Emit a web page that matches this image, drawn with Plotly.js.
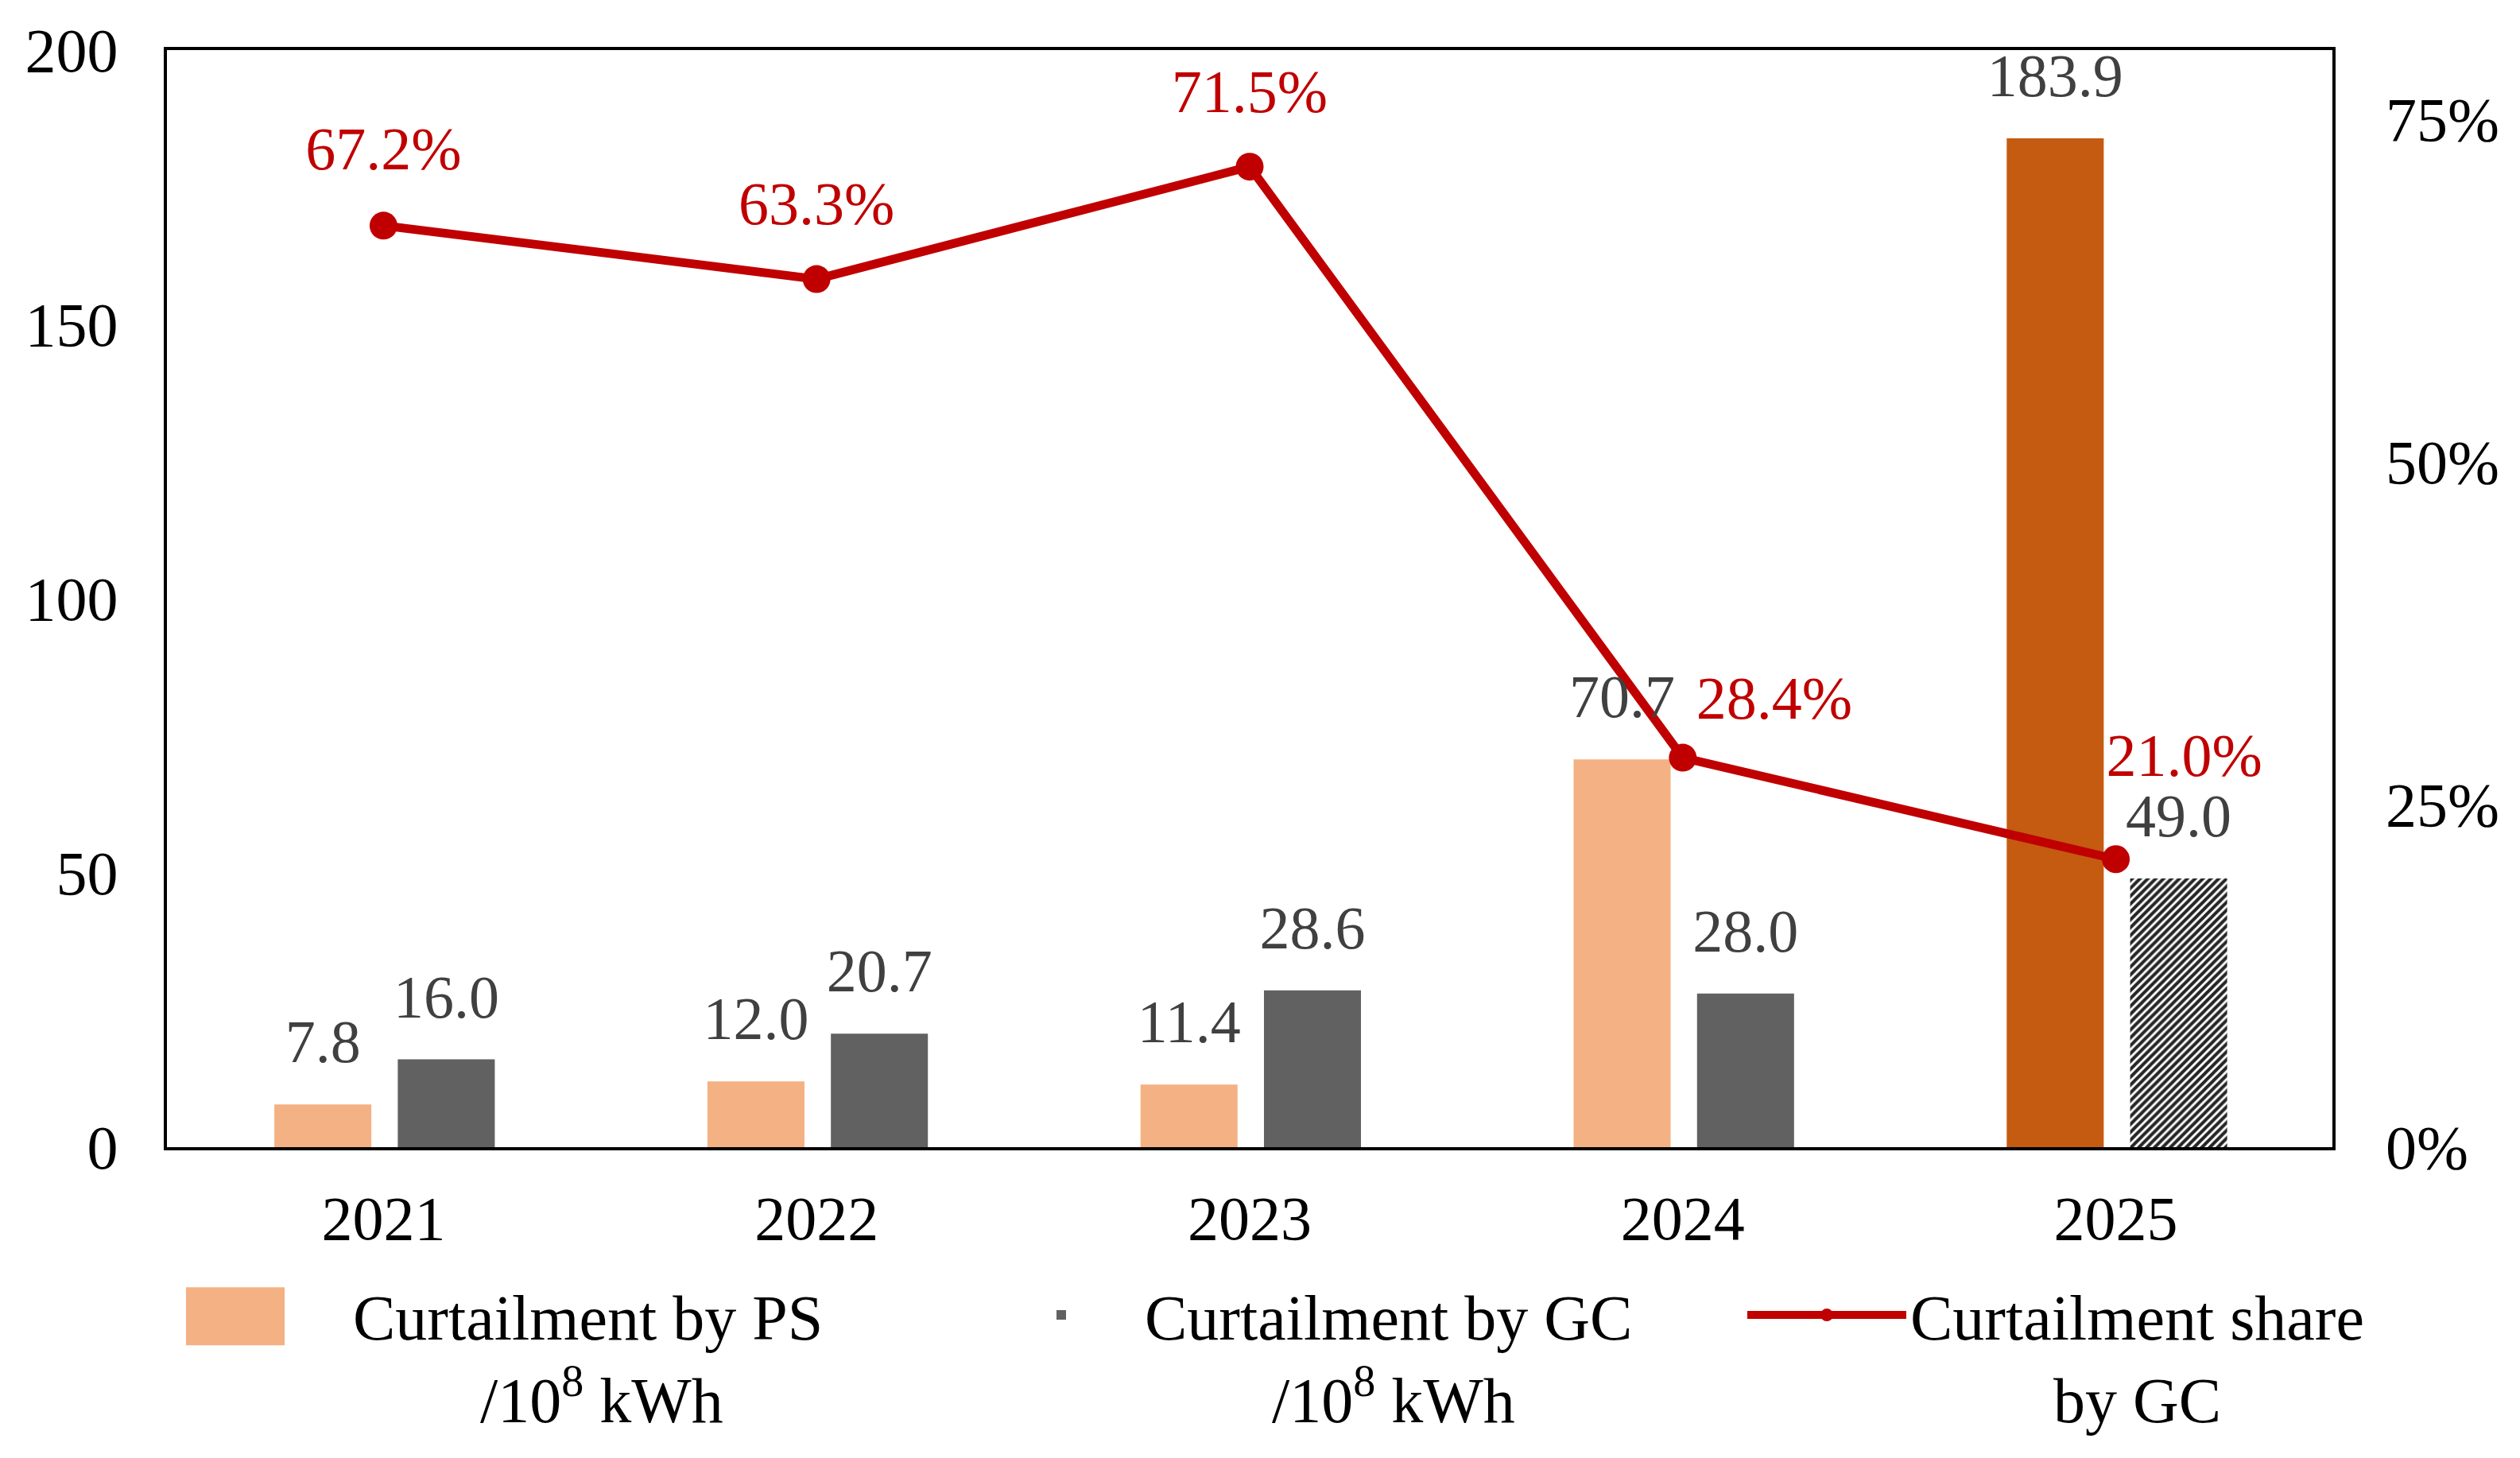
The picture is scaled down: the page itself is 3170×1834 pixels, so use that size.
<!DOCTYPE html>
<html>
<head>
<meta charset="utf-8">
<script src="https://cdn.plot.ly/plotly-3.0.1.min.js"></script>
<style>
  html, body { margin: 0; padding: 0; background: #fff; }
  #chart { width: 3170px; height: 1834px; }
</style>
</head>
<body>
<div id="chart"></div>
<script>
const years = ['2021', '2022', '2023', '2024', '2025'];
const psValues = [7.8, 12.0, 11.4, 70.7, 183.9];
const gcValues = [16.0, 20.7, 28.6, 28.0, 49.0];
const gcShare = [0.672, 0.633, 0.715, 0.284, 0.210];
const psColors = ['#F4B183', '#F4B183', '#F4B183', '#F4B183', '#C55A11'];
// in "replace" mode the hatch lines take marker.color
const gcColors = ['#616161', '#616161', '#616161', '#616161', '#262626'];
const gcPatterns = ['', '', '', '', '/'];
const shareTicks = [0, 0.25, 0.5, 0.75];

const FONT = '"Liberation Serif", "Times New Roman", serif';
const W = 3170, H = 1834;
const M = { l: 210, r: 236, t: 63, b: 391 };
const plotW = W - M.l - M.r, plotH = H - M.t - M.b;
const catW = plotW / years.length;
const yMax = 200, y2Max = 0.8;

const barWidth = 0.224;
const psOffset = -0.252;
const gcOffset = 0.033;

// pixel shifts of the labels from their bar top / point
const barLabelLift = 72;
const shareShift = [[0, 90], [0, 88], [0, 88], [115, 68], [86, 124]];

const pxX = px => px / catW;
const pxY = px => px * yMax / plotH;
const pxY2 = px => px * y2Max / plotH;

const idx = years.map((_, i) => i);
const NB = '\u00A0';

const traces = [
  {
    type: 'bar', name: 'Curtailment by PS<br>' + NB.repeat(8) + '/10<sup>8</sup> kWh', legend: 'legend',
    x: years, y: psValues, width: barWidth, offset: psOffset,
    marker: { color: psColors }, hoverinfo: 'skip'
  },
  {
    type: 'bar', name: 'Curtailment by GC<br>' + NB.repeat(8) + '/10<sup>8</sup> kWh', legend: 'legend2',
    x: years, y: gcValues, width: barWidth, offset: gcOffset,
    marker: {
      color: gcColors,
      pattern: { shape: gcPatterns, bgcolor: '#ffffff', size: 7, solidity: 0.58 }
    },
    hoverinfo: 'skip'
  },
  {
    type: 'scatter', mode: 'lines+markers', name: 'Curtailment share<br>' + NB.repeat(9) + 'by GC', legend: 'legend3',
    x: years, y: gcShare, yaxis: 'y2',
    line: { color: '#C00000', width: 11 },
    marker: { color: '#C00000', size: 35 }, hoverinfo: 'skip'
  },
  {
    type: 'scatter', mode: 'text', showlegend: false, hoverinfo: 'skip', cliponaxis: false,
    x: idx.map(i => i + psOffset + barWidth / 2), y: psValues.map(v => v + pxY(barLabelLift)),
    xaxis: 'x2', yaxis: 'y',
    text: psValues.map(v => v.toFixed(1)), textposition: 'middle center',
    textfont: { family: FONT, size: 76, color: '#404040' }
  },
  {
    type: 'scatter', mode: 'text', showlegend: false, hoverinfo: 'skip', cliponaxis: false,
    x: idx.map(i => i + gcOffset + barWidth / 2), y: gcValues.map(v => v + pxY(barLabelLift)),
    xaxis: 'x2', yaxis: 'y',
    text: gcValues.map(v => v.toFixed(1)), textposition: 'middle center',
    textfont: { family: FONT, size: 76, color: '#404040' }
  },
  {
    type: 'scatter', mode: 'text', showlegend: false, hoverinfo: 'skip', cliponaxis: false,
    x: idx.map(i => i + pxX(shareShift[i][0])), y: gcShare.map((v, i) => v + pxY2(shareShift[i][1])),
    xaxis: 'x2', yaxis: 'y2',
    text: gcShare.map(v => (v * 100).toFixed(1) + '%'), textposition: 'middle center',
    textfont: { family: FONT, size: 76, color: '#C00000' }
  }
];

const legendBase = {
  orientation: 'v', xref: 'container', yref: 'container',
  xanchor: 'left', y: 0.13, yanchor: 'top',
  font: { family: FONT, size: 80, color: '#000000' },
  itemwidth: 200, valign: 'top', bgcolor: 'rgba(0,0,0,0)'
};
// legend text starts at x + itemwidth + 10 px
const legendTextX = [444, 1440, 2403];
const legendX = legendTextX.map(t => (t - legendBase.itemwidth - 10) / W);

const layout = {
  width: W, height: H,
  margin: { l: M.l, r: M.r, t: M.t, b: M.b, pad: 0, autoexpand: false },
  paper_bgcolor: '#ffffff', plot_bgcolor: '#ffffff',
  font: { family: FONT, size: 78, color: '#000000' },
  barmode: 'overlay',
  showlegend: true,
  legend: Object.assign({}, legendBase, { x: legendX[0] }),
  legend2: Object.assign({}, legendBase, { x: legendX[1] }),
  legend3: Object.assign({}, legendBase, { x: legendX[2] }),
  xaxis: {
    type: 'category', range: [-0.5, 4.5], showline: true, mirror: true,
    linecolor: '#000000', linewidth: 4, ticks: '', showgrid: false, zeroline: false,
    ticklabelstandoff: 18, tickfont: { family: FONT, size: 78 }
  },
  xaxis2: { overlaying: 'x', range: [-0.5, 4.5], visible: false, showgrid: false, zeroline: false },
  yaxis: {
    range: [0, yMax], dtick: 50, showline: true, mirror: true,
    linecolor: '#000000', linewidth: 4, ticks: '', showgrid: false, zeroline: false,
    ticklabelstandoff: 42, tickfont: { family: FONT, size: 78 }
  },
  yaxis2: {
    overlaying: 'y', side: 'right', range: [0, y2Max], tickvals: shareTicks,
    tickformat: '.0%', showline: false, ticks: '', showgrid: false, zeroline: false,
    ticklabelstandoff: 66, tickfont: { family: FONT, size: 78 }
  }
};

const gd = document.getElementById('chart');
const SVGNS = 'http://www.w3.org/2000/svg';

function addPath(parent, d, style) {
  const p = document.createElementNS(SVGNS, 'path');
  p.setAttribute('class', 'bigsym');
  p.setAttribute('d', d);
  p.setAttribute('style', style);
  parent.appendChild(p);
}

// legend symbols are drawn bigger, as in the original figure
function fixLegend() {
  gd.querySelectorAll('text.legendtext').forEach(txt => {
    try {
      const g = txt.closest('g.traces') || txt.parentNode;
      g.querySelectorAll('.bigsym').forEach(e => e.remove());
      const first = txt.querySelector('tspan.line') || txt;
      const r = first.getBoundingClientRect();
      const ctm = g.getScreenCTM();
      if (!r.height) return;
      const tx = r.left - ctm.e;
      const cy = (r.top + r.bottom) / 2 - 3 - ctm.f;
      g.querySelectorAll('g.legendpoints, g.legendlines, g.legendsymbols').forEach(e => { e.style.display = 'none'; });
      const name = txt.textContent;
      if (name.indexOf('share') >= 0) {
        addPath(g, `M${tx - 197},${cy}H${tx - 35}`, 'fill:none;stroke:#C00000;stroke-width:17px');
        const rr = 21, cx = tx - 116;
        addPath(g, `M${cx + rr},${cy}A${rr},${rr} 0 1,1 ${cx - rr},${cy}A${rr},${rr} 0 1,1 ${cx + rr},${cy}Z`,
          'fill:#C00000;stroke:none');
      } else {
        const c = name.indexOf('PS') >= 0 ? psColors[0] : gcColors[0];
        addPath(g, `M${tx - 220},${cy - 36}H${tx - 86}V${cy + 37}H${tx - 220}Z`, `fill:${c};stroke:none`);
      }
    } catch (e) { /* keep the default symbol */ }
  });
}

Plotly.newPlot(gd, traces, layout, { staticPlot: true, displayModeBar: false }).then(fixLegend);
setTimeout(fixLegend, 500);
setTimeout(fixLegend, 1200);
</script>
</body>
</html>
